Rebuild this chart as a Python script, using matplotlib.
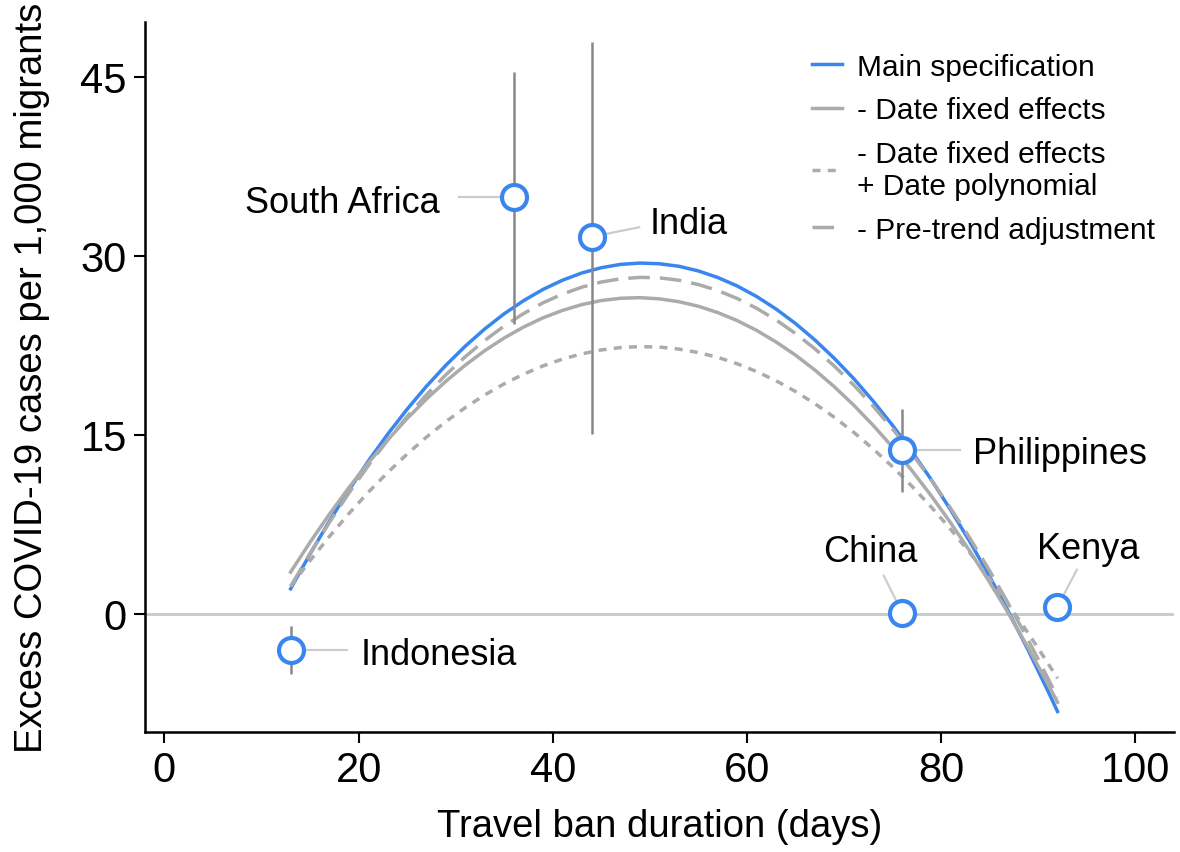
import matplotlib
matplotlib.use('Agg')
import matplotlib.pyplot as plt

plt.rcParams['font.family'] = ['Liberation Sans', 'DejaVu Sans']

# country estimates
countries = ['Indonesia', 'South Africa', 'India', 'Philippines', 'China', 'Kenya']
ban_days = [13, 36, 44, 76, 76, 92]
excess = [-3.0, 34.9, 31.6, 13.7, 0.1, 0.6]
ci_low = [-5.0, 24.3, 15.1, 10.2, 0.1, 0.6]
ci_high = [-1.0, 45.4, 47.9, 17.2, 0.1, 0.6]

# fitted curves
curve_x = [13, 15, 17, 19, 21, 23, 25, 27, 29, 31, 33, 35, 37, 39, 41, 43, 45, 47, 49, 51,
           53, 55, 57, 59, 61, 63, 65, 67, 69, 71, 73, 75, 77, 79, 81, 83, 85, 87, 89, 91, 92]
main_spec = [2.10, 5.02, 7.78, 10.37, 12.80, 15.06, 17.15, 19.08, 20.84, 22.44, 23.88,
             25.15, 26.25, 27.19, 27.96, 28.57, 29.01, 29.29, 29.40, 29.34, 29.13, 28.74,
             28.19, 27.48, 26.60, 25.55, 24.34, 22.96, 21.42, 19.72, 17.84, 15.81, 13.61,
             11.24, 8.70, 6.01, 3.14, 0.11, -3.08, -6.44, -8.18]
no_date_fe = [3.50, 6.00, 8.36, 10.58, 12.65, 14.58, 16.37, 18.01, 19.50, 20.85, 22.06,
              23.12, 24.04, 24.81, 25.43, 25.92, 26.26, 26.45, 26.50, 26.40, 26.16, 25.78,
              25.25, 24.58, 23.76, 22.79, 21.69, 20.44, 19.04, 17.50, 15.81, 13.98, 12.01,
              9.89, 7.62, 5.22, 2.66, -0.03, -2.88, -5.86, -7.41]
date_poly = [2.31, 4.46, 6.49, 8.40, 10.19, 11.85, 13.39, 14.82, 16.12, 17.29, 18.35,
             19.28, 20.09, 20.78, 21.35, 21.79, 22.12, 22.32, 22.40, 22.36, 22.19, 21.90,
             21.50, 20.96, 20.31, 19.54, 18.64, 17.62, 16.48, 15.22, 13.83, 12.33, 10.70,
             8.95, 7.08, 5.08, 2.96, 0.73, -1.64, -4.12, -5.41]
no_pretrend = [2.30, 5.07, 7.67, 10.12, 12.42, 14.56, 16.54, 18.37, 20.04, 21.56, 22.92,
               24.12, 25.17, 26.07, 26.80, 27.38, 27.81, 28.08, 28.20, 28.16, 27.96, 27.60,
               27.10, 26.43, 25.61, 24.64, 23.50, 22.22, 20.77, 19.18, 17.42, 15.51, 13.44,
               11.22, 8.84, 6.31, 3.62, 0.78, -2.22, -5.38, -7.02]

blue = '#3a86ef'
grey = '#ababab'

fig = plt.figure(figsize=(11.8, 8.53), dpi=100)
ax = fig.add_axes([0.1229, 0.1407, 0.872, 0.8323])

ax.axhline(0, color='#c8c8c8', lw=2, zorder=1)

ax.plot(curve_x, main_spec, color=blue, lw=2.5, zorder=3, label='Main specification')
ax.plot(curve_x, no_date_fe, color=grey, lw=2.5, zorder=4, label='- Date fixed effects')
ax.plot(curve_x, date_poly, color=grey, lw=2.5, ls=(0, (2.3, 2.1)), zorder=4,
        label='- Date fixed effects\n+ Date polynomial')
ax.plot(curve_x, no_pretrend, color=grey, lw=2.5, ls=(0, (6.2, 2.9)), zorder=5,
        label='- Pre-trend adjustment')

# error bars
ax.vlines(ban_days, ci_low, ci_high, color='#888888', lw=1.8, zorder=6)

# label connectors and text
label_pos = {
    'Indonesia': (20.2, -3.4, 'left', (18.8, -3.0)),
    'South Africa': (28.4, 34.5, 'right', (30.3, 34.9)),
    'India': (50.0, 32.7, 'left', (48.9, 32.4)),
    'Philippines': (83.3, 13.4, 'left', (82.0, 13.7)),
    'China': (72.7, 5.2, 'center', (74.1, 3.2)),
    'Kenya': (95.2, 5.5, 'center', (94.0, 3.7)),
}
for name, x, y in zip(countries, ban_days, excess):
    tx, ty, ha, (lx, ly) = label_pos[name]
    ax.plot([x, lx], [y, ly], color='#cccccc', lw=1.6, zorder=6)
    ax.text(tx, ty, name, ha=ha, va='center', fontsize=26, zorder=8)

ax.plot(ban_days, excess, 'o', ms=18, mfc='white', mec=blue, mew=3, zorder=7)

ax.set_xlim(-2, 104)
ax.set_ylim(-9.9, 49.6)
ax.set_xticks([0, 20, 40, 60, 80, 100])
ax.set_yticks([0, 15, 30, 45])
ax.tick_params(labelsize=30, length=8, width=1.5, pad=5)
for side in ['top', 'right']:
    ax.spines[side].set_visible(False)
for side in ['left', 'bottom']:
    ax.spines[side].set_linewidth(1.8)

ax.set_xlabel('Travel ban duration (days)', fontsize=27.5, labelpad=13)
ax.set_ylabel('Excess COVID-19 cases per 1,000 migrants', fontsize=27.5, labelpad=22)

ax.legend(loc='upper left', bbox_to_anchor=(0.648, 0.957), frameon=False, fontsize=21.5,
          handlelength=1.0, handletextpad=0.5, labelspacing=0.52, borderpad=0,
          borderaxespad=0)

fig.savefig('out.png', dpi=100)
